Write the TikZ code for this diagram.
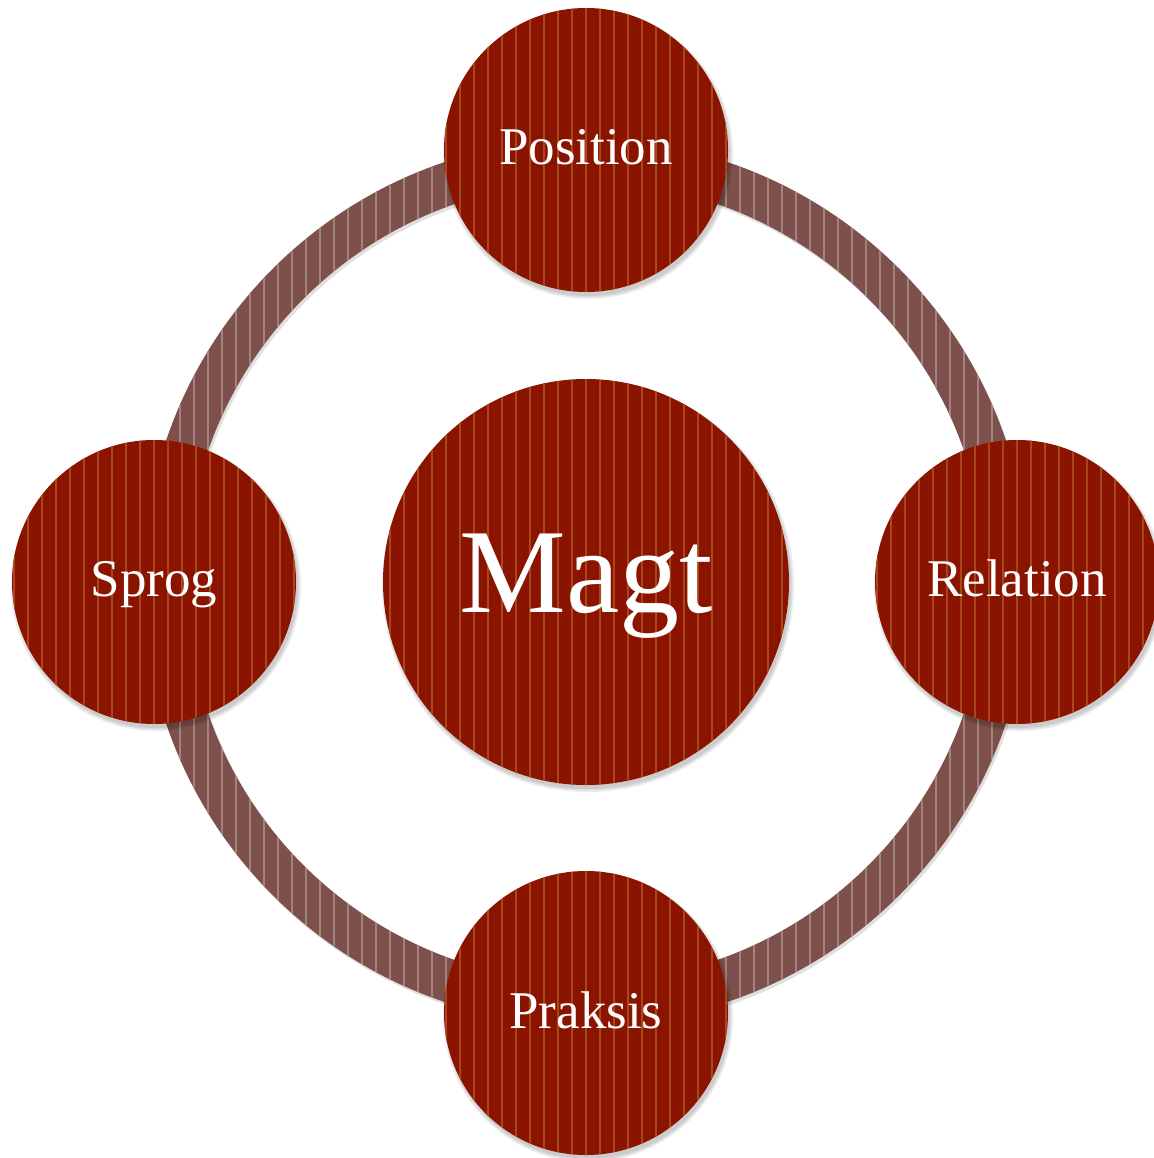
\documentclass[tikz,border=0pt]{standalone}
\usepackage{fontspec}
\setmainfont{Liberation Serif}
\definecolor{bub}{HTML}{8A1400}
\definecolor{bubstripe}{HTML}{A8461E}
\definecolor{ringc}{HTML}{7D504B}
\definecolor{ringstripe}{HTML}{A2827D}
\tikzset{
  bubble/.style={circle, fill=bub, text=white, inner sep=0pt,
    minimum size=#1,
    path picture={\foreach \i in {-16,...,16}{\fill[bubstripe] ([xshift=\i*14pt-1pt, yshift=-300pt]path picture bounding box.center) rectangle ++(2pt,600pt);}}},
  small/.style={bubble=284pt, font=\fontsize{53}{62}\selectfont, text height=35pt, text depth=0pt},
  big/.style={bubble=406pt, font=\fontsize{120}{140}\selectfont, text height=79pt, text depth=0pt},
  softshadow/.style={black, opacity=0.07}
}
\newcommand{\shadowat}[3]{%
  \fill[softshadow] (#1+2,#2+4) circle[radius=#3+3pt];
  \fill[softshadow] (#1+2,#2+4) circle[radius=#3+1.5pt];
  \fill[softshadow] (#1+2,#2+4) circle[radius=#3];
}
\begin{document}
\begin{tikzpicture}[x=1pt,y=-1pt]
\useasboundingbox (0,0) rectangle (1153,1158);
% ring shadow
\fill[black, opacity=0.12, even odd rule] (588,585) circle[radius=443pt] (588,585) circle[radius=400pt];
% ring
\fill[ringc, even odd rule] (586,582) circle[radius=443pt] (586,582) circle[radius=400pt];
\begin{scope}[even odd rule]
\clip (586,582) circle[radius=443pt] (586,582) circle[radius=400pt];
\foreach \i in {-32,...,32}{\fill[ringstripe] (586+\i*14-1,120) rectangle ++(2,930);}
\end{scope}
% shadows
\shadowat{586}{150}{142pt}
\shadowat{1017}{582}{142pt}
\shadowat{154}{582}{142pt}
\shadowat{586}{1013}{142pt}
\shadowat{586}{582}{203pt}
% satellites
\node[small] (pos) at (586,150) {\raisebox{3pt}{Position}};
\node[small] (rel) at (1017,582) {\raisebox{3pt}{Relation}};
\node[small] (spr) at (154,582) {\raisebox{3pt}{Sprog}};
\node[small] (pra) at (586,1013) {\raisebox{2pt}{Praksis}};
% centre
\node[big] (magt) at (586,582) {\raisebox{9pt}{Magt}};
\end{tikzpicture}
\end{document}
